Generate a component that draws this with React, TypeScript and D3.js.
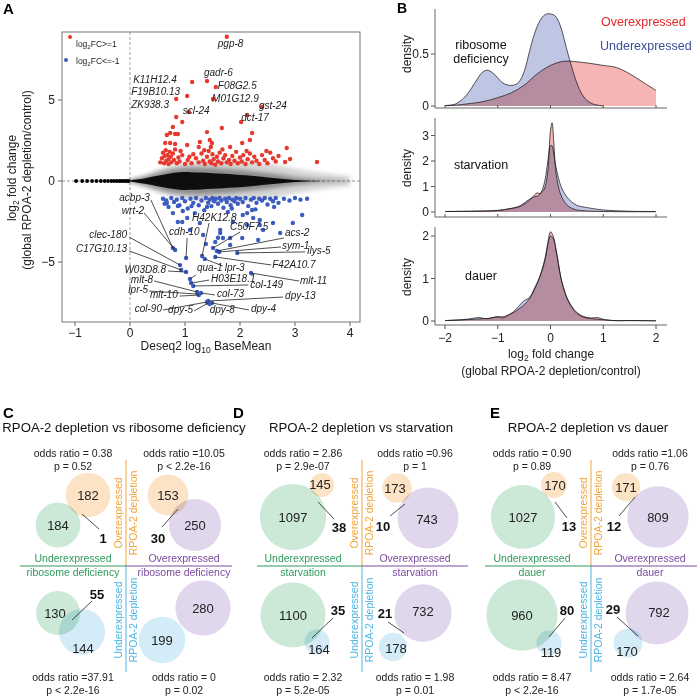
import React from "react";
import * as d3 from "d3";

const FONT = "'Liberation Sans', Arial, Helvetica, sans-serif";

// ================= Panel A data =================
const lowCountX = [-0.98, -0.87, -0.78, -0.69, -0.61, -0.53, -0.46, -0.4, -0.34, -0.29, -0.24, -0.19, -0.15, -0.11, -0.07, -0.03];
const cloudX = [-0.05, 0.1, 0.3, 0.5, 0.7, 0.9, 1.1, 1.3, 1.5, 1.7, 1.9, 2.1, 2.3, 2.5, 2.7, 2.9, 3.1, 3.3, 3.6, 4.0];
const cloudHalo = [0.08, 0.2, 0.42, 0.7, 0.95, 1.1, 1.2, 1.25, 1.3, 1.3, 1.3, 1.25, 1.2, 1.1, 1.0, 0.85, 0.7, 0.6, 0.45, 0.3];
const cloudMid = [0.05, 0.12, 0.28, 0.5, 0.7, 0.8, 0.85, 0.85, 0.82, 0.78, 0.72, 0.65, 0.58, 0.5, 0.4, 0.3, 0.2, 0.12, 0.05, 0.02];
const cloudCore = [0.03, 0.08, 0.18, 0.32, 0.45, 0.55, 0.55, 0.52, 0.48, 0.44, 0.4, 0.35, 0.3, 0.22, 0.15, 0.1, 0.05, 0.02, 0.0, 0.0];

const upX = [0.84, 0.95, 0.78, 0.73, 0.82, 0.87, 0.67, 1.4, 1.67, 2.22, 2.18, 0.64, 0.73, 0.82, 1.27, 1.45, 1.49, 1.47, 2.04, 2.85, 1.04, 1.25, 2.82, 2.91, 3.4, 1.82, 2.02,
  0.55, 0.58, 0.6, 0.62, 0.63, 0.65, 0.66, 0.68, 0.7, 0.7, 0.72, 0.74, 0.75, 0.78, 0.8, 0.82, 0.85, 0.88, 0.9, 0.95, 1.0, 1.05, 1.12, 1.2, 1.25, 1.3, 1.33, 1.36, 1.4, 1.43,
  1.45, 1.48, 1.5, 1.52, 1.55, 1.58, 1.6, 1.63, 1.66, 1.7, 1.73, 1.76, 1.8, 1.83, 1.86, 1.9, 1.93, 1.96, 2.0, 2.03, 2.06, 2.1, 2.14, 2.18, 2.22, 2.26, 2.3, 2.35, 2.4,
  2.45, 2.5, 2.55, 2.6, 2.65, 2.7, 1.15, 1.35, 1.68, 2.12, 2.48, 0.92, 1.08];
const upY = [3.95, 3.64, 3.33, 2.96, 2.9, 2.9, 2.84, 3.02, 3.27, 2.96, 2.53, 2.35, 2.35, 2.28, 2.41, 2.53, 2.35, 2.1, 2.35, 2.04, 2.22, 2.1, 1.17, 1.36, 1.17, 2.1, 3.64,
  1.15, 1.4, 1.75, 1.1, 1.55, 1.9, 1.25, 1.6, 1.05, 1.35, 1.8, 1.5, 1.15, 1.7, 1.3, 1.95, 1.1, 1.45, 1.2, 1.6, 1.05, 1.3, 1.1, 1.4, 1.15, 1.7, 1.25, 1.05, 1.5, 1.85,
  1.2, 1.1, 1.65, 1.35, 1.0, 1.5, 1.2, 1.75, 1.1, 1.4, 1.6, 1.15, 1.3, 1.05, 1.55, 1.25, 1.8, 1.1, 1.45, 1.2, 1.6, 1.05, 1.35, 1.7, 1.15, 1.5, 1.25, 1.05, 1.6,
  1.3, 1.1, 1.75, 1.4, 1.2, 1.55, 1.65, 1.9, 1.95, 1.85, 1.85, 1.85, 1.5];

const downX = [0.6, 0.63, 0.66, 0.7, 0.75, 0.8, 0.85, 0.9, 0.95, 1.0, 1.05, 1.1, 1.15, 1.2, 1.25, 1.3, 1.35, 1.38, 1.42, 1.45, 1.48, 1.5, 1.53, 1.56, 1.6, 1.63, 1.66,
  1.7, 1.73, 1.76, 1.8, 1.83, 1.86, 1.9, 1.93, 1.96, 2.0, 2.05, 2.1, 2.15, 2.2, 2.25, 2.3, 2.35, 2.4, 2.45, 2.5, 2.55, 2.6, 2.65, 2.7, 2.8, 2.9, 3.0, 3.1, 3.22,
  1.4, 1.85, 2.28, 2.62, 1.12,
  0.67, 0.78, 0.95, 0.87, 1.04, 1.27, 1.33, 1.55, 1.64, 1.87, 2.13, 2.36, 2.6, 3.13, 1.78, 2.05, 2.22, 1.18, 1.09, 1.38, 1.6, 1.82, 2.33, 2.13, 2.24, 2.36, 2.42, 2.73, 2.96, 0.87, 0.96, 1.64, 1.69, 1.82, 2.04];
const downY = [-1.1, -1.4, -1.2, -1.6, -1.05, -1.3, -1.15, -1.5, -1.05, -1.25, -1.7, -1.1, -1.35, -1.05, -1.5, -1.2, -1.8, -1.05, -1.35, -1.15, -1.55, -1.05, -1.25, -1.1,
  -1.4, -1.05, -1.2, -1.65, -1.1, -1.3, -1.05, -1.5, -1.15, -1.25, -1.05, -1.4, -1.1, -1.3, -1.05, -1.55, -1.15, -1.05, -1.35, -1.1, -1.2, -1.05, -1.45, -1.1, -1.25,
  -1.05, -1.35, -1.1, -1.2, -1.05, -1.15, -1.1,
  -1.6, -1.7, -1.75, -1.6, -1.55,
  -1.36, -1.98, -2.53, -1.54, -2.28, -2.59, -3.33, -3.77, -3.02, -2.53, -2.72, -2.41, -2.59, -2.1, -1.91, -2.1, -1.79, -1.98, -3.02, -3.89, -3.5, -3.95, -3.64,
  -1.98, -2.28, -2.72, -3.02, -3.21, -2.59, -2.53, -1.85, -3.21, -3.52, -3.52, -3.52];

const upGenes = ["pgp-8", "gadr-6", "K11H12.4", "F08G2.5", "F19B10.13", "M01G12.9", "ZK938.3", "gst-24", "scl-24", "dct-17"];
const upGeneX = [1.76, 1.4, 1.13, 1.56, 1.04, 1.51, 0.84, 2.4, 1.07, 2.13];
const upGeneY = [8.9, 6.17, 6.11, 5.8, 5.25, 5.06, 5.06, 4.57, 4.26, 4.07];

const downGenes = ["acbp-3", "wrt-2", "cdh-10", "clec-180", "C17G10.13", "W03D8.8", "qua-1", "H03E18.1", "col-149", "mlt-8", "lpr-5", "mlt-10", "col-73",
  "dpy-13", "col-90", "dpy-5", "dpy-8", "dpy-4", "H42K12.8", "C50F7.5", "acs-2", "sym-1", "ilys-5", "F42A10.7", "lpr-3", "mlt-11"];
const downGeneX = [0.78, 0.82, 1.02, 0.91, 0.93, 1.02, 1.09, 1.11, 1.15, 1.22, 1.24, 1.25, 1.29, 1.42, 1.4, 1.42, 1.45, 1.49, 1.31, 1.51, 1.58, 1.62, 1.95, 1.55, 1.36, 2.2];
const downGeneY = [-4.14, -4.26, -4.75, -5.19, -5.49, -5.62, -6.05, -6.3, -6.48, -6.85, -6.98, -7.04, -6.91, -7.41, -7.47, -7.53, -7.59, -7.53, -4.63, -4.14, -4.32, -4.38, -4.44, -4.69, -4.81, -5.68];

// label layout: pixel offsets from the point (text anchor point, leader start)
type Lab = { dx: number; dy: number; a: "start" | "end" | "middle"; lx?: number; ly?: number };
const upLabelLayout: Lab[] = [
  { dx: -9, dy: 10, a: "start" }, { dx: -3, dy: -5, a: "start" }, { dx: -59, dy: 1, a: "start" }, { dx: 2, dy: 2, a: "start" },
  { dx: -56, dy: -1, a: "start" }, { dx: -1, dy: 3, a: "start" }, { dx: -45, dy: 9, a: "start" }, { dx: -3, dy: 2, a: "start" },
  { dx: -6, dy: 2, a: "start" }, { dx: -6, dy: 6, a: "start" },
];
const downLabelLayout: Lab[] = [
  { dx: -23, dy: -47, a: "end", lx: -22, ly: -48 },
  { dx: -31, dy: -36, a: "end", lx: -31, ly: -37 },
  { dx: -17, dy: -23, a: "start", lx: 1, ly: -20 },
  { dx: -53, dy: -27, a: "end", lx: -51, ly: -28 },
  { dx: -54, dy: -18, a: "end", lx: -52, ly: -19 },
  { dx: -20, dy: 1, a: "end", lx: -18, ly: -1 },
  { dx: 7, dy: -8, a: "start", lx: 6, ly: -4 },
  { dx: 20, dy: -1, a: "start", lx: 18, ly: -3 },
  { dx: 57, dy: 2, a: "start", lx: 55, ly: -1 },
  { dx: -44, dy: -9, a: "end", lx: -43, ly: -11 },
  { dx: -50, dy: -1, a: "end", lx: -49, ly: -3 },
  { dx: -21, dy: 3, a: "end", lx: -19, ly: 1 },
  { dx: 16, dy: 4, a: "start", lx: 14, ly: 2 },
  { dx: 77, dy: -2, a: "start", lx: 75, ly: -4 },
  { dx: -45, dy: 10, a: "end", lx: -44, ly: 8 },
  { dx: -15, dy: 10, a: "end", lx: -14, ly: 8 },
  { dx: 0, dy: 9, a: "start" },
  { dx: 39, dy: 9, a: "start", lx: 37, ly: 7 },
  { dx: -10, dy: -35, a: "start", lx: 7, ly: -33 },
  { dx: 17, dy: -18, a: "start", lx: 27, ly: -16 },
  { dx: 68, dy: -15, a: "start", lx: 67, ly: -13 },
  { dx: 63, dy: -3, a: "start", lx: 62, ly: -5 },
  { dx: 70, dy: 1, a: "start", lx: 68, ly: -1 },
  { dx: 57, dy: 11, a: "start", lx: 56, ly: 8 },
  { dx: 20, dy: 12, a: "start", lx: 18, ly: 7 },
  { dx: 49, dy: 11, a: "start", lx: 48, ly: 8 },
];

// ================= Panel B data =================
const riboUnderX = [-2, -1.8, -1.6, -1.4, -1.3, -1.2, -1.1, -1.0, -0.9, -0.8, -0.7, -0.6, -0.5, -0.4, -0.3, -0.2, -0.1, 0, 0.1, 0.2, 0.3, 0.4, 0.5, 0.6, 0.7, 0.8, 0.9, 1.0];
const riboUnderY = [0.005, 0.02, 0.1, 0.25, 0.32, 0.345, 0.32, 0.27, 0.22, 0.2, 0.2, 0.23, 0.33, 0.52, 0.7, 0.82, 0.88, 0.885, 0.86, 0.75, 0.56, 0.38, 0.22, 0.11, 0.05, 0.02, 0.008, 0];
const riboOverX = [-2, -1.75, -1.5, -1.25, -1, -0.75, -0.5, -0.25, 0, 0.25, 0.5, 0.75, 1, 1.25, 1.5, 1.75, 2];
const riboOverY = [0.002, 0.01, 0.025, 0.045, 0.08, 0.125, 0.2, 0.31, 0.39, 0.43, 0.425, 0.41, 0.39, 0.37, 0.31, 0.23, 0.15];

const starvX = [-2, -1.5, -1, -0.8, -0.6, -0.5, -0.4, -0.3, -0.25, -0.2, -0.15, -0.1, -0.05, 0, 0.03, 0.06, 0.1, 0.15, 0.2, 0.3, 0.4, 0.5, 0.7, 1, 1.5, 2];
const starvOverY = [0.02, 0.03, 0.06, 0.12, 0.2, 0.3, 0.45, 0.68, 0.75, 0.72, 0.8, 1.0, 1.6, 3.2, 3.5, 2.8, 1.6, 1.0, 0.65, 0.3, 0.15, 0.08, 0.04, 0.02, 0.01, 0.01];
const starvUnderY = [0.02, 0.03, 0.06, 0.12, 0.22, 0.35, 0.5, 0.6, 0.62, 0.7, 0.9, 1.3, 2.0, 2.6, 2.6, 2.3, 1.8, 1.35, 1.0, 0.62, 0.4, 0.26, 0.17, 0.08, 0.03, 0.02];

const dauerX = [-2, -1.6, -1.35, -1.2, -1, -0.9, -0.8, -0.7, -0.6, -0.5, -0.4, -0.3, -0.2, -0.1, -0.05, 0, 0.05, 0.1, 0.15, 0.2, 0.3, 0.4, 0.5, 0.6, 0.75, 0.9, 1.0, 1.2, 1.5, 2];
const dauerOverY = [0.01, 0.03, 0.05, 0.06, 0.1, 0.1, 0.14, 0.2, 0.28, 0.38, 0.52, 0.75, 1.05, 1.5, 1.85, 2.1, 2.0, 1.72, 1.35, 1.0, 0.58, 0.35, 0.2, 0.12, 0.07, 0.08, 0.04, 0.01, 0.01, 0.005];
const dauerUnderY = [0.01, 0.04, 0.08, 0.05, 0.1, 0.07, 0.14, 0.22, 0.35, 0.48, 0.55, 0.78, 1.05, 1.45, 1.8, 2.0, 1.95, 1.7, 1.35, 1.0, 0.58, 0.33, 0.18, 0.1, 0.06, 0.04, 0.03, 0.01, 0.01, 0.005];

const densityTicksX = [-2, -1, 0, 1, 2];

// ================= Panels C-E data =================
const vennLetters = ["C", "D", "E"];
const vennTitles = ["RPOA-2 depletion vs ribosome deficiency", "RPOA-2 depletion vs starvation", "RPOA-2 depletion vs dauer"];
const vennConditions = ["ribosome deficiency", "starvation", "dauer"];
const tlOrange = [182, 145, 170];
const tlGreen = [184, 1097, 1027];
const tlBoth = [1, 38, 13];
const trOrange = [153, 173, 171];
const trPurple = [250, 743, 809];
const trBoth = [30, 10, 12];
const blGreen = [130, 1100, 960];
const blBlue = [144, 164, 119];
const blBoth = [55, 35, 80];
const brPurple = [280, 732, 792];
const brBlue = [199, 178, 170];
const brBoth = [0, 21, 29];
const oddsTL = ["odds ratio = 0.38", "odds ratio = 2.86", "odds ratio = 0.90"];
const pTL = ["p = 0.52", "p = 2.9e-07", "p = 0.89"];
const oddsTR = ["odds ratio =10.05", "odds ratio =0.96", "odds ratio =1.06"];
const pTR = ["p < 2.2e-16", "p = 1", "p = 0.76"];
const oddsBL = ["odds ratio =37.91", "odds ratio = 2.32", "odds ratio = 8.47"];
const pBL = ["p < 2.2e-16", "p = 5.2e-05", "p < 2.2e-16"];
const oddsBR = ["odds ratio = 0", "odds ratio = 1.98", "odds ratio = 2.64"];
const pBR = ["p = 0.02", "p = 0.01", "p = 1.7e-05"];

// Layout (positions in px) for Venn panels
type P = [number, number];
type Quad = { k: number; a: P; at?: P; b: P; bt?: P; n?: P; lead?: [P, P] };
const vennLayout: { cx: number; hx: [number, number]; letterX: number; titleX: number; left: number; right: number; q: Quad[] }[] = [
  {
    cx: 126, hx: [20, 232], letterX: 3, titleX: 124, left: 73, right: 184,
    q: [
      { k: 1.65, a: [88, 495], b: [58, 525], n: [103, 538], lead: [[82, 514], [99, 529]] },
      { k: 1.65, a: [168, 495], b: [195, 525], n: [158, 538], lead: [[162, 527], [178, 509]] },
      { k: 1.92, a: [58, 613], at: [55, 613], b: [82, 632], bt: [83, 648], n: [97, 594], lead: [[72, 620], [92, 601]] },
      { k: 1.65, a: [203, 608], b: [162, 640] },
    ],
  },
  {
    cx: 362, hx: [257, 468], letterX: 233, titleX: 361, left: 303, right: 415,
    q: [
      { k: 1.0, a: [322, 485], at: [320, 484], b: [293, 517], n: [339, 527], lead: [[318, 502], [334, 519]] },
      { k: 1.12, a: [397, 488], at: [395, 488], b: [428, 518], bt: [427, 519], n: [383, 526], lead: [[390, 516], [405, 504]] },
      { k: 0.98, a: [293, 615], b: [317, 642], bt: [319, 649], n: [338, 610], lead: [[312, 638], [333, 618]] },
      { k: 1.06, a: [423, 613], at: [423, 611], b: [393, 647], bt: [396, 648], n: [385, 613], lead: [[388, 622], [404, 633]] },
    ],
  },
  {
    cx: 591, hx: [485, 697], letterX: 490, titleX: 588, left: 532, right: 650,
    q: [
      { k: 1.0, a: [554, 485], at: [555, 485], b: [523, 517], n: [569, 526], lead: [[555, 502], [567, 518]] },
      { k: 1.08, a: [626, 487], b: [658, 517], n: [614, 526], lead: [[619, 516], [635, 497]] },
      { k: 1.15, a: [522, 615], b: [549, 643], bt: [551, 652], n: [567, 610], lead: [[549, 637], [565, 618]] },
      { k: 1.12, a: [657, 613], at: [659, 612], b: [628, 643], bt: [627, 651], n: [613, 609], lead: [[617, 617], [638, 636]] },
    ],
  },
];

const C_ORANGE = "#f3a33a";
const C_GREEN = "#2e9a5a";
const C_PURPLE = "#7b4a9f";
const C_BLUE = "#4cb5e3";
const F_ORANGE = "#fde3c6";
const F_GREEN = "#cce8d7";
const F_PURPLE = "#e0d7ec";
const F_BLUE = "#d3ecf7";

function PanelA() {
  const x = d3.scaleLinear().domain([-1, 4]).range([75, 350]);
  const y = d3.scaleLinear().domain([-5, 5]).range([262, 100]);
  const L = 62, R = 360, T = 32, B = 322;
  const idx = cloudX.map((_, i) => i);
  const band = (h: number[]) =>
    d3.area<number>().x((i) => x(cloudX[i])).y0((i) => y(-h[i])).y1((i) => y(h[i])).curve(d3.curveBasis)(idx) || "";
  const xTicks = [-1, 0, 1, 2, 3, 4];
  const yTicks = [-5, 0, 5];
  return (
    <g>
      <text x={3} y={14} fontSize={15} fontWeight="bold">A</text>
      <defs>
        <clipPath id="clipA"><rect x={L} y={T} width={R - L} height={B - T} /></clipPath>
        <filter id="blurA" x="-20%" y="-50%" width="140%" height="200%"><feGaussianBlur stdDeviation={2} /></filter>
      </defs>
      <g clipPath="url(#clipA)">
        <line x1={L} x2={R} y1={y(0)} y2={y(0)} stroke="#777" strokeDasharray="3,2" strokeWidth={0.8} />
        <line x1={x(0)} x2={x(0)} y1={T} y2={B} stroke="#888" strokeDasharray="3,2" strokeWidth={0.8} />
        <path d={band(cloudHalo)} fill="#000" opacity={0.16} filter="url(#blurA)" />
        <path d={band(cloudMid)} fill="#000" opacity={0.35} filter="url(#blurA)" />
        <path d={band(cloudCore)} fill="#000" opacity={0.9} />
        {lowCountX.map((v, i) => <circle key={"lc" + i} cx={x(v)} cy={y(0)} r={1.9} fill="#000" />)}
        {upX.map((v, i) => <circle key={"u" + i} cx={x(v)} cy={y(upY[i])} r={2.2} fill="#e8392e" />)}
        {downX.map((v, i) => <circle key={"d" + i} cx={x(v)} cy={y(downY[i])} r={2.2} fill="#3d5cbf" />)}
        {upGenes.map((g, i) => <circle key={"ug" + i} cx={x(upGeneX[i])} cy={y(upGeneY[i])} r={2.2} fill="#e8392e" />)}
        {downGenes.map((g, i) => <circle key={"dg" + i} cx={x(downGeneX[i])} cy={y(downGeneY[i])} r={2.2} fill="#3d5cbf" />)}
      </g>
      <rect x={L} y={T} width={R - L} height={B - T} fill="none" stroke="#666" strokeWidth={0.9} />
      {/* leaders and labels */}
      {downGenes.map((g, i) => {
        const lay = downLabelLayout[i];
        const px = x(downGeneX[i]), py = y(downGeneY[i]);
        return (
          <g key={"dl" + i}>
            {lay.lx !== undefined && (
              <line x1={px + lay.lx} y1={py + (lay.ly as number)} x2={px} y2={py} stroke="#222" strokeWidth={0.8} />
            )}
            <text x={px + lay.dx} y={py + lay.dy} fontSize={10} fontStyle="italic" textAnchor={lay.a} fill="#222">{g}</text>
          </g>
        );
      })}
      {upGenes.map((g, i) => {
        const lay = upLabelLayout[i];
        return (
          <text key={"ul" + i} x={x(upGeneX[i]) + lay.dx} y={y(upGeneY[i]) + lay.dy} fontSize={10} fontStyle="italic" textAnchor={lay.a} fill="#222">{g}</text>
        );
      })}
      {/* legend */}
      <circle cx={70} cy={37} r={2} fill="#e8392e" />
      <text x={76} y={47} fontSize={8.5} fill="#222">log<tspan fontSize={6} dy={2}>2</tspan><tspan dy={-2}>FC&gt;=1</tspan></text>
      <circle cx={66} cy={60} r={2} fill="#3d5cbf" />
      <text x={76} y={64} fontSize={8.5} fill="#222">log<tspan fontSize={6} dy={2}>2</tspan><tspan dy={-2}>FC&lt;=-1</tspan></text>
      {/* axes */}
      {xTicks.map((t) => (
        <g key={"xt" + t}>
          <line x1={x(t)} x2={x(t)} y1={B} y2={B + 4} stroke="#666" />
          <text x={x(t)} y={337} fontSize={12} textAnchor="middle" fill="#222">{t < 0 ? "\u2212" + Math.abs(t) : t}</text>
        </g>
      ))}
      {yTicks.map((t) => (
        <g key={"yt" + t}>
          <line x1={L - 4} x2={L} y1={y(t)} y2={y(t)} stroke="#666" />
          <text x={55} y={y(t) + 4} fontSize={12} textAnchor="end" fill="#222">{t < 0 ? "\u2212" + Math.abs(t) : t}</text>
        </g>
      ))}
      <text x={206} y={350} fontSize={12} textAnchor="middle" fill="#222">Deseq2 log<tspan fontSize={8.5} dy={3}>10</tspan><tspan dy={-3}> BaseMean</tspan></text>
      <text transform="translate(16,178) rotate(-90)" fontSize={12} textAnchor="middle" fill="#222">log<tspan fontSize={8.5} dy={3}>2</tspan><tspan dy={-3}> fold change</tspan></text>
      <text transform="translate(31,180) rotate(-90)" fontSize={12} textAnchor="middle" fill="#222">(global RPOA-2 depletion/control)</text>
    </g>
  );
}

function Density({ xs, under, xo, over, y, top, axisY, ticks, showLabels, label, labelY, densityY }: any) {
  const x = d3.scaleLinear().domain([-2, 2]).range([445, 656]);
  const mk = (xx: number[], yy: number[]) =>
    d3.area<number>().x((i) => x(xx[i])).y0(y(0)).y1((i) => y(yy[i])).curve(d3.curveCatmullRom)(xx.map((_, i) => i)) || "";
  const mkl = (xx: number[], yy: number[]) =>
    d3.line<number>().x((i) => x(xx[i])).y((i) => y(yy[i])).curve(d3.curveCatmullRom)(xx.map((_, i) => i)) || "";
  return (
    <g>
      <g style={{ isolation: "isolate" } as any}>
        <path d={mk(xs, under)} fill="#bec6e3" style={{ mixBlendMode: "multiply" } as any} />
        <path d={mk(xo, over)} fill="#f5b5b5" style={{ mixBlendMode: "multiply" } as any} />
      </g>
      <path d={mkl(xs, under)} fill="none" stroke="#111" strokeWidth={0.7} />
      <path d={mkl(xo, over)} fill="none" stroke="#111" strokeWidth={0.7} />
      <line x1={435} x2={435} y1={top} y2={axisY} stroke="#555" strokeWidth={0.9} />
      <line x1={435} x2={667} y1={axisY} y2={axisY} stroke="#555" strokeWidth={0.9} />
      {ticks.map((t: number) => (
        <g key={"t" + t}>
          <line x1={431} x2={435} y1={y(t)} y2={y(t)} stroke="#555" />
          <text x={429} y={y(t) + 4} fontSize={12} textAnchor="end" fill="#222">{t}</text>
        </g>
      ))}
      {densityTicksX.map((t) => (
        <line key={"xt" + t} x1={x(t)} x2={x(t)} y1={axisY} y2={showLabels ? axisY + 4 : axisY - 3} stroke="#555" />
      ))}
      {showLabels && densityTicksX.map((t) => (
        <text key={"xl" + t} x={x(t)} y={342} fontSize={12} textAnchor="middle" fill="#222">{t < 0 ? "\u2212" + Math.abs(t) : t}</text>
      ))}
      <text transform={`translate(411,${densityY}) rotate(-90)`} fontSize={12} textAnchor="middle" fill="#222">density</text>
      {label.map((l: string, i: number) => (
        <text key={l} x={481} y={labelY + i * 14} fontSize={12.5} textAnchor="middle" fill="#111">{l}</text>
      ))}
    </g>
  );
}

function PanelB() {
  return (
    <g>
      <text x={397} y={13} fontSize={14} fontWeight="bold">B</text>
      <Density xs={riboUnderX} under={riboUnderY} xo={riboOverX} over={riboOverY}
        y={d3.scaleLinear().domain([0, 0.5]).range([106, 54])} top={9} axisY={108} ticks={[0, 0.5]}
        label={["ribosome", "deficiency"]} labelY={49} densityY={54} />
      <Density xs={starvX} under={starvUnderY} xo={starvX} over={starvOverY}
        y={d3.scaleLinear().domain([0, 3]).range([212, 135.5])} top={118} axisY={217} ticks={[0, 1, 2, 3]}
        label={["starvation"]} labelY={169} densityY={168} />
      <Density xs={dauerX} under={dauerUnderY} xo={dauerX} over={dauerOverY}
        y={d3.scaleLinear().domain([0, 2]).range([321, 236])} top={227} axisY={325} ticks={[0, 1, 2]} showLabels
        label={["dauer"]} labelY={280} densityY={277} />
      <text x={601} y={26} fontSize={12.5} fill="#e4262b">Overexpressed</text>
      <text x={600} y={50} fontSize={12.5} fill="#3b4d9b">Underexpressed</text>
      <text x={551} y={358} fontSize={12} textAnchor="middle" fill="#222">log<tspan fontSize={8.5} dy={3}>2</tspan><tspan dy={-3}> fold change</tspan></text>
      <text x={551} y={375} fontSize={12} textAnchor="middle" fill="#222">(global RPOA-2 depletion/control)</text>
    </g>
  );
}

function Venn({ i }: { i: number }) {
  const lay = vennLayout[i];
  const Y = 566;
  const quads = [
    { a: tlOrange[i], fa: F_ORANGE, b: tlGreen[i], fb: F_GREEN, n: tlBoth[i] },
    { a: trOrange[i], fa: F_ORANGE, b: trPurple[i], fb: F_PURPLE, n: trBoth[i] },
    { a: blGreen[i], fa: F_GREEN, b: blBlue[i], fb: F_BLUE, n: blBoth[i] },
    { a: brPurple[i], fa: F_PURPLE, b: brBlue[i], fb: F_BLUE, n: brBoth[i] },
  ];
  const odds = [
    { t: oddsTL[i], p: pTL[i], x: lay.left, y: 457 },
    { t: oddsTR[i], p: pTR[i], x: lay.right, y: 457 },
    { t: oddsBL[i], p: pBL[i], x: lay.left, y: 681 },
    { t: oddsBR[i], p: pBR[i], x: lay.right, y: 681 },
  ];
  return (
    <g>
      <text x={lay.letterX} y={418} fontSize={15} fontWeight="bold">{vennLetters[i]}</text>
      <text x={lay.titleX} y={432} fontSize={13.2} textAnchor="middle" fill="#111">{vennTitles[i]}</text>
      {odds.map((o, k) => (
        <g key={"o" + k}>
          <text x={o.x} y={o.y} fontSize={10.5} textAnchor="middle" fill="#222">{o.t}</text>
          <text x={o.x} y={o.y + 13} fontSize={10.5} textAnchor="middle" fill="#222">{o.p}</text>
        </g>
      ))}
      <g style={{ isolation: "isolate" } as any}>
        {quads.map((q, k) => {
          const ql = lay.q[k];
          const r = d3.scaleSqrt().domain([0, 1]).range([0, ql.k]);
          return (
            <g key={"c" + k}>
              <circle cx={ql.a[0]} cy={ql.a[1]} r={r(q.a)} fill={q.fa} style={{ mixBlendMode: "multiply" } as any} />
              <circle cx={ql.b[0]} cy={ql.b[1]} r={r(q.b)} fill={q.fb} style={{ mixBlendMode: "multiply" } as any} />
            </g>
          );
        })}
      </g>
      {quads.map((q, k) => {
        const ql = lay.q[k];
        const at = ql.at || ql.a;
        const bt = ql.bt || ql.b;
        return (
          <g key={"t" + k}>
            <text x={at[0]} y={at[1]} dy="0.36em" fontSize={13} textAnchor="middle" fill="#222">{q.a}</text>
            <text x={bt[0]} y={bt[1]} dy="0.36em" fontSize={13} textAnchor="middle" fill="#222">{q.b}</text>
            {ql.lead && <line x1={ql.lead[0][0]} y1={ql.lead[0][1]} x2={ql.lead[1][0]} y2={ql.lead[1][1]} stroke="#222" strokeWidth={0.8} />}
            {ql.n && q.n > 0 && (
              <text x={ql.n[0]} y={ql.n[1]} dy="0.36em" fontSize={13} fontWeight="bold" textAnchor="middle" fill="#111">{q.n}</text>
            )}
          </g>
        );
      })}
      {/* dividers */}
      <line x1={lay.cx} x2={lay.cx} y1={460} y2={Y} stroke={C_ORANGE} strokeWidth={1} />
      <line x1={lay.cx} x2={lay.cx} y1={Y} y2={672} stroke={C_BLUE} strokeWidth={1} />
      <line x1={lay.hx[0]} x2={lay.cx} y1={Y} y2={Y} stroke={C_GREEN} strokeWidth={1} />
      <line x1={lay.cx} x2={lay.hx[1]} y1={Y} y2={Y} stroke={C_PURPLE} strokeWidth={1} />
      <text x={lay.left} y={562} fontSize={10.5} textAnchor="middle" fill={C_GREEN}>Underexpressed</text>
      <text x={lay.left} y={576} fontSize={10.5} textAnchor="middle" fill={C_GREEN}>{vennConditions[i]}</text>
      <text x={lay.right} y={562} fontSize={10.5} textAnchor="middle" fill={C_PURPLE}>Overexpressed</text>
      <text x={lay.right} y={576} fontSize={10.5} textAnchor="middle" fill={C_PURPLE}>{vennConditions[i]}</text>
      <text transform={`translate(${lay.cx - 4},513) rotate(-90)`} fontSize={10.5} textAnchor="middle" fill={C_ORANGE}>Overexpressed</text>
      <text transform={`translate(${lay.cx + 11},513) rotate(-90)`} fontSize={10.5} textAnchor="middle" fill={C_ORANGE}>RPOA-2 depletion</text>
      <text transform={`translate(${lay.cx - 4},620) rotate(-90)`} fontSize={10.5} textAnchor="middle" fill={C_BLUE}>Underexpressed</text>
      <text transform={`translate(${lay.cx + 11},620) rotate(-90)`} fontSize={10.5} textAnchor="middle" fill={C_BLUE}>RPOA-2 depletion</text>
    </g>
  );
}

export default function App() {
  return (
    <svg width={700} height={700} viewBox="0 0 700 700"
      style={{ position: "absolute", left: 0, top: 0, background: "#fff" }} fontFamily={FONT}>
      <rect x={0} y={0} width={700} height={700} fill="#fff" />
      <PanelA />
      <PanelB />
      {[0, 1, 2].map((i) => <Venn key={i} i={i} />)}
    </svg>
  );
}
